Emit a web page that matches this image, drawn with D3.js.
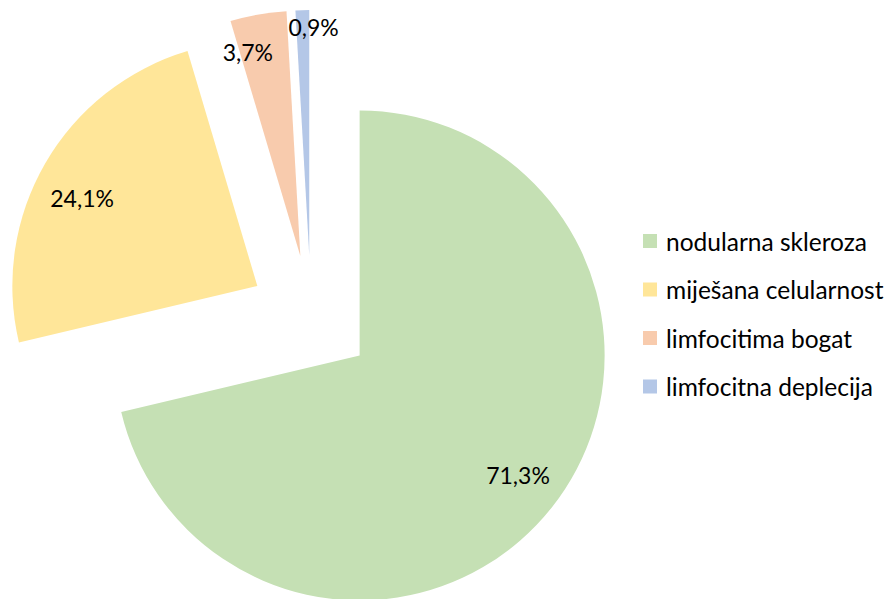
<!DOCTYPE html>
<html>
<head>
<meta charset="utf-8">
<script src="https://cdn.jsdelivr.net/npm/d3@7"></script>
<style>
  body { margin: 0; background: #fff; }
  text { font-family: Lato, "Open Sans", sans-serif; fill: #000; }
</style>
</head>
<body>
<div id="chart"></div>
<script>
const categories = ["nodularna skleroza", "miješana celularnost", "limfocitima bogat", "limfocitna deplecija"];
const values = [71.3, 24.1, 3.7, 0.9];
const labels = ["71,3%", "24,1%", "3,7%", "0,9%"];
const colors = ["#C5E0B4", "#FFE699", "#F8CBAD", "#B4C7E7"];

// where each label sits: t = fraction across the slice angle, k = fraction of radius
const labelPlace = [
  { t: 0.495, k: 0.81 },
  { t: 0.46, k: 0.8 },
  { t: 0.16, k: 0.86 },
  { t: 1.34, k: 0.93 }
];

const width = 894;
const height = 599;
const cx = 311;
const cy = 317;
const radius = 245;
const explode = 62;

const svg = d3
  .select("#chart")
  .append("svg")
  .attr("width", width)
  .attr("height", height);

const pie = d3.pie().sort(null).value(d => d);
const arcs = pie(values);
const arc = d3.arc().innerRadius(0).outerRadius(radius);

const slices = svg
  .selectAll("g.slice")
  .data(arcs)
  .enter()
  .append("g")
  .attr("class", "slice")
  .attr("transform", d => {
    const mid = (d.startAngle + d.endAngle) / 2;
    const x = cx + explode * Math.sin(mid);
    const y = cy - explode * Math.cos(mid);
    return `translate(${x}, ${y})`;
  });

slices
  .append("path")
  .attr("d", arc)
  .attr("fill", (d, i) => colors[i]);

slices
  .append("text")
  .attr("text-anchor", "middle")
  .attr("dominant-baseline", "central")
  .style("font-size", "23px")
  .attr("x", (d, i) => {
    const a = d.startAngle + (d.endAngle - d.startAngle) * labelPlace[i].t;
    return radius * labelPlace[i].k * Math.sin(a);
  })
  .attr("y", (d, i) => {
    const a = d.startAngle + (d.endAngle - d.startAngle) * labelPlace[i].t;
    return -radius * labelPlace[i].k * Math.cos(a);
  })
  .text((d, i) => labels[i]);

const legendY = d3
  .scalePoint()
  .domain(categories)
  .range([241, 386.5]);

const legend = svg
  .selectAll("g.legend")
  .data(categories)
  .enter()
  .append("g")
  .attr("class", "legend")
  .attr("transform", d => `translate(643, ${legendY(d)})`);

legend
  .append("rect")
  .attr("x", 0)
  .attr("y", -7)
  .attr("width", 14)
  .attr("height", 14)
  .attr("fill", (d, i) => colors[i]);

legend
  .append("text")
  .attr("x", 23)
  .attr("dominant-baseline", "central")
  .style("font-size", "24.5px")
  .text(d => d);
</script>
</body>
</html>
